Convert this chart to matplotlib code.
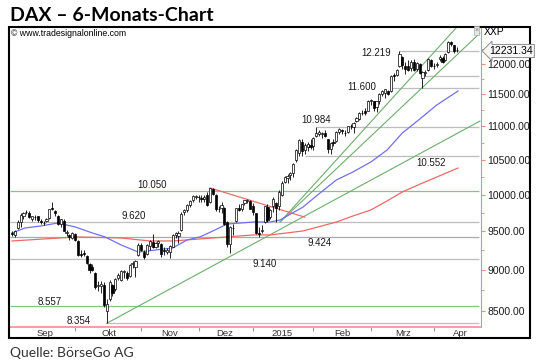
import numpy as np
import matplotlib.pyplot as plt
from matplotlib.patches import Rectangle
from matplotlib.ticker import FixedLocator, NullFormatter

plt.rcParams["font.family"] = ["Liberation Sans", "DejaVu Sans"]

# daily candles, Sep 1 2014 .. Apr 15 2015 (trading-day index)
opens = [
    9480, 9450, 9540, 9620, 9700, 9760, 9750, 9660, 9690, 9700,
    9640, 9610, 9640, 9680, 9810, 9780, 9700, 9600, 9640, 9480,
    9450, 9410, 9470, 9370, 9200, 9220, 9180, 9070, 9040, 8960,
    8800, 8800, 8820, 8500, 8640, 8820, 8760, 8900, 8880, 8970,
    8960, 8920, 9080, 9040, 9190, 9320, 9230, 9200, 9310, 9360,
    9300, 9350, 9330, 9250, 9230, 9230, 9300, 9450, 9440, 9520,
    9760, 9790, 9860, 9920, 9970, 9970, 9950, 9940, 9990, 9900,
    10080, 9990, 9800, 9810, 9820, 9620, 9330, 9540, 9640, 9820,
    9800, 9880, 9910, 9910, 9840, 9740, 9480, 9510, 9620, 9830,
    9690, 9840, 9880, 9840, 10000, 10180, 10240, 10270, 10310, 10490,
    10600, 10760, 10640, 10690, 10720, 10700, 10850, 10880, 10880, 10900,
    10800, 10660, 10760, 10770, 10920, 10940, 10900, 10920, 11010, 10990,
    11080, 11120, 11210, 11230, 11240, 11400, 11390, 11300, 11400, 11510,
    11530, 11560, 11560, 11820, 11820, 11970, 12120, 11960, 11960, 11930,
    12030, 11910, 12000, 11760, 11850, 11900, 12060, 11970, 11990, 12080,
    12100, 12070, 12200, 12380, 12320, 12240]
highs = [
    9500, 9520, 9650, 9740, 9760, 9790, 9770, 9710, 9720, 9710,
    9670, 9640, 9680, 9800, 9891, 9790, 9720, 9670, 9660, 9520,
    9460, 9490, 9480, 9380, 9260, 9260, 9190, 9090, 9080, 8980,
    8860, 8860, 8850, 8640, 8870, 8830, 8900, 8960, 9000, 9000,
    8990, 9080, 9120, 9130, 9340, 9350, 9260, 9330, 9390, 9470,
    9360, 9390, 9340, 9300, 9280, 9320, 9470, 9490, 9500, 9760,
    9800, 9870, 9920, 9990, 10000, 9990, 9990, 9990, 10030, 10093,
    10090, 10010, 9840, 9900, 9830, 9640, 9570, 9600, 9820, 9870,
    9870, 9930, 9940, 9920, 9880, 9750, 9560, 9580, 9840, 9870,
    9800, 9960, 9900, 10060, 10190, 10260, 10290, 10320, 10450, 10660,
    10810, 10800, 10750, 10760, 10800, 10840, 10984, 10950, 10920, 10940,
    10810, 10760, 10800, 10930, 10980, 10960, 10950, 11010, 11040, 11060,
    11140, 11220, 11260, 11280, 11410, 11430, 11400, 11400, 11520, 11580,
    11590, 11580, 11810, 11850, 11910, 12219, 12140, 12030, 12060, 12060,
    12080, 12030, 12020, 11880, 11900, 12100, 12080, 12010, 12040, 12150,
    12130, 12180, 12390, 12390, 12330, 12290]
lows = [
    9440, 9420, 9530, 9560, 9660, 9730, 9680, 9640, 9650, 9630,
    9600, 9590, 9620, 9670, 9790, 9700, 9580, 9560, 9500, 9440,
    9390, 9400, 9370, 9180, 9170, 9180, 9070, 8960, 8990, 8770,
    8740, 8720, 8550, 8355, 8620, 8680, 8740, 8870, 8860, 8900,
    8870, 8910, 9020, 8910, 9180, 9240, 9140, 9190, 9250, 9280,
    9280, 9300, 9170, 9190, 9200, 9150, 9290, 9410, 9340, 9510,
    9720, 9760, 9830, 9900, 9940, 9900, 9900, 9890, 9840, 9880,
    9990, 9770, 9760, 9750, 9580, 9300, 9220, 9450, 9630, 9770,
    9780, 9850, 9880, 9800, 9720, 9460, 9424, 9480, 9610, 9620,
    9660, 9760, 9620, 9790, 9980, 10160, 10160, 10200, 10250, 10460,
    10560, 10552, 10580, 10620, 10660, 10640, 10830, 10850, 10820, 10830,
    10600, 10590, 10700, 10760, 10890, 10880, 10850, 10900, 10960, 10900,
    11060, 11090, 11180, 11180, 11230, 11330, 11240, 11220, 11350, 11470,
    11450, 11490, 11540, 11720, 11800, 11950, 11920, 11840, 11880, 11890,
    11880, 11880, 11830, 11600, 11800, 11890, 11950, 11920, 11950, 12050,
    12010, 12050, 12190, 12300, 12180, 12200]
closes = [
    9459, 9507, 9626, 9724, 9747, 9758, 9686, 9700, 9691, 9651,
    9627, 9614, 9661, 9798, 9800, 9749, 9595, 9661, 9510, 9490,
    9422, 9474, 9382, 9195, 9195, 9209, 9086, 9005, 9005, 8788,
    8812, 8825, 8572, 8582, 8850, 8717, 8887, 8940, 8987, 8988,
    8902, 9068, 9082, 9114, 9326, 9251, 9166, 9315, 9377, 9291,
    9351, 9369, 9210, 9248, 9252, 9306, 9456, 9472, 9483, 9732,
    9785, 9861, 9915, 9974, 9980, 9963, 9934, 9971, 9851, 10087,
    10014, 9799, 9799, 9862, 9594, 9335, 9563, 9544, 9811, 9787,
    9865, 9922, 9927, 9806, 9765, 9473, 9469, 9518, 9837, 9648,
    9781, 9941, 9817, 10032, 10167, 10242, 10257, 10299, 10435, 10649,
    10798, 10628, 10710, 10738, 10694, 10828, 10891, 10911, 10905, 10846,
    10664, 10753, 10752, 10919, 10963, 10924, 10895, 11006, 11001, 11050,
    11131, 11206, 11211, 11210, 11401, 11409, 11281, 11390, 11504, 11550,
    11582, 11500, 11806, 11799, 11901, 12167, 11980, 11922, 11899, 12039,
    11895, 12012, 11843, 11865, 11868, 12086, 11966, 11968, 12001, 12124,
    12035, 12166, 12375, 12338, 12227, 12231]

# moving averages (bar index, value)
ma_fast_idx = [0, 4.5, 10, 16, 22, 28, 32.4, 38, 44, 50, 56, 61, 65.5, 70, 75, 84, 90,
               93.4, 101.4, 107.3, 113, 118.8, 125, 130.7, 136, 142, 148, 155.4]
ma_fast_val = [9478, 9544, 9571, 9611, 9558, 9478, 9426, 9321, 9229, 9255, 9282, 9386, 9426,
               9505, 9597, 9624, 9624, 9652, 9828, 10022, 10206, 10321, 10465, 10643, 10898,
               11110, 11333, 11556]
ma_slow_idx = [0, 22.6, 38, 48, 56, 70, 84, 90, 101.4, 107.3, 113, 118.8, 125, 130.7, 136,
               142.2, 148, 155.4]
ma_slow_val = [9373, 9426, 9412, 9373, 9373, 9412, 9452, 9452, 9505, 9565, 9624, 9706, 9787,
               9912, 10037, 10148, 10248, 10378]

# horizontal support / resistance lines: level, first bar
green_levels = [10050, 9424, 8557]
gray_levels = [9620, 9140, 8354, 10552, 10984, 11600, 11800, 12219]
gray_starts = [-0.7, -0.7, 33, 102, 106, 132.4, 143, 135]

# trend lines: (bar, price) -> (bar, price)
green_trends = [((33, 8355), (163, 11080)),
                ((93.4, 9625), (163, 13090)),
                ((93.4, 9625), (163, 12527))]
red_trend = ((69, 10093), (102, 9690))

level_labels = ["10.050", "9.620", "9.424", "9.140", "8.557", "8.354",
                "10.984", "10.552", "11.600", "12.219"]
level_label_pos = [(48.8, 10135), (42.5, 9706), (107.3, 9347), (88, 9077), (13.2, 8608),
                   (23.3, 8382), (105.9, 11098), (146, 10451), (122, 11621), (126.8, 12186)]

month_starts = [22, 45, 65, 84, 105, 125, 147]
month_names = ["Sep", "Okt", "Nov", "Dez", "2015", "Feb", "Mrz", "Apr"]
month_label_idx = [11.5, 33.8, 55, 74.2, 94.1, 115, 136.2, 156.1]
price_ticks = [8500, 9000, 9500, 10000, 10500, 11000, 11500, 12000]
last_price = "12231.34"

W, H = 540, 362
fig = plt.figure(figsize=(W / 100, H / 100), dpi=100)


def fx(px):
    return px / W


def fy(py):
    return 1 - py / H


ax = fig.add_axes([fx(10), fy(327), fx(481) - fx(10), fy(27) - fy(327)])
ax.set_yscale("log")
ax.set_xlim(-0.7, 163.4)
ax.set_ylim(8312, 12636)

o = np.array(opens, float)
h = np.array(highs, float)
l = np.array(lows, float)
c = np.array(closes, float)
idx = np.arange(len(c))
up = c >= o

# levels
x_end = 162.6
for lev in green_levels:
    ax.hlines(lev, -0.7, x_end, color="#86c386", lw=0.9, zorder=1)
for lev, s in zip(gray_levels, gray_starts):
    ax.hlines(lev, s, x_end, color="#bdbdbd", lw=0.9, zorder=1)

for (x0, y0), (x1, y1) in green_trends:
    ax.plot([x0, x1], [y0, y1], color="#6cae6c", lw=0.8, zorder=2)
ax.plot([red_trend[0][0], red_trend[1][0]], [red_trend[0][1], red_trend[1][1]],
        color="#e36f6f", lw=0.9, zorder=2)

ax.plot(ma_slow_idx, ma_slow_val, color="#f06868", lw=0.9, zorder=2)
ax.plot(ma_fast_idx, ma_fast_val, color="#7070ee", lw=0.9, zorder=2)

# candles
ax.vlines(idx, l, h, color="black", lw=0.6, zorder=3)
ax.bar(idx[up], np.maximum(c - o, 4)[up], bottom=o[up], width=0.75,
       facecolor="white", edgecolor="black", lw=0.5, zorder=4)
ax.bar(idx[~up], np.maximum(o - c, 4)[~up], bottom=c[~up], width=0.75,
       facecolor="black", edgecolor="black", lw=0.5, zorder=4)

for txt, (xi, yi) in zip(level_labels, level_label_pos):
    ax.text(xi, yi, txt, ha="center", va="center", fontsize=7, color="#1a1a1a", zorder=5)

# axes styling
for s in ["left", "top"]:
    ax.spines[s].set_visible(False)
ax.spines["right"].set_color("#e88a8a")
ax.spines["bottom"].set_color("#f09a9a")
ax.spines["bottom"].set_linewidth(1.3)

ax.yaxis.tick_right()
ax.set_yticks(price_ticks, labels=[f"{v:.2f}" for v in price_ticks])
ax.yaxis.set_minor_locator(FixedLocator([v + 250 for v in price_ticks]))
ax.yaxis.set_minor_formatter(NullFormatter())
ax.tick_params(axis="y", which="major", length=3, color="#e88a8a", labelsize=7.5,
               pad=1.5, labelcolor="#1a1a1a")
ax.tick_params(axis="y", which="minor", length=2, color="#e88a8a")

ax.set_xticks(month_starts, labels=[""] * len(month_starts))
ax.set_xticks(month_label_idx, labels=month_names, minor=True)
ax.tick_params(axis="x", which="major", length=3, color="#9a9a9a")
ax.tick_params(axis="x", which="minor", length=0, labelsize=6.8, pad=1.5, labelcolor="#333333")

# frame and texts
fig.add_artist(Rectangle((fx(9), fy(338)), fx(530) - fx(9), fy(27) - fy(338),
                         transform=fig.transFigure, fill=False, ec="black", lw=1.5))
fig.text(fx(10), fy(21), "DAX – 6-Monats-Chart", fontsize=14, fontweight="bold",
         family="Lato", va="baseline")
fig.text(fx(10), fy(357), "Quelle: BörseGo AG", fontsize=10, family="Lato",
         va="baseline", color="#333333")
fig.text(fx(11), fy(33), "© www.tradesignalonline.com", fontsize=6.3, va="center")
fig.text(fx(484), fy(32), "XXP", fontsize=7.5, va="center")
fig.text(fx(476.5), fy(30.5), "×", fontsize=5, ha="center", va="center", color="#777777",
         bbox=dict(boxstyle="square,pad=0.1", fc="#e6e6e6", ec="#aaaaaa", lw=0.5))
fig.text(fx(511), fy(51), last_price, ha="center", va="center", fontsize=7.5,
         bbox=dict(boxstyle="larrow,pad=0.15", fc="#f6f6f6", ec="#8c8c8c", lw=0.7))

fig.savefig("out.png", dpi=100)
